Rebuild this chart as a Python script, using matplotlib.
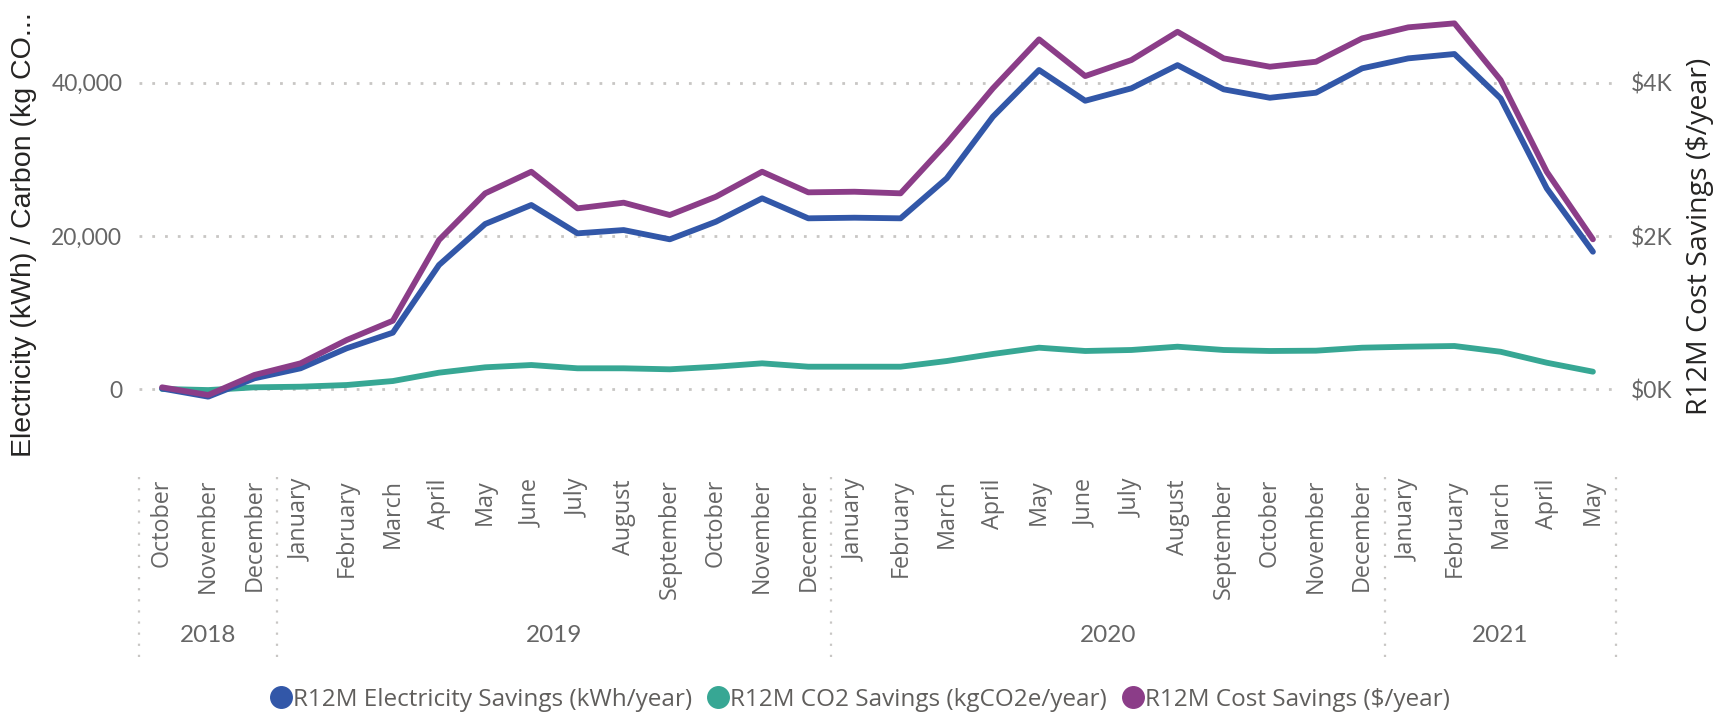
import matplotlib
matplotlib.use("Agg")
import matplotlib.pyplot as plt
from matplotlib.lines import Line2D
from matplotlib.ticker import FuncFormatter
import matplotlib.transforms as mtransforms

# ---------------- data ----------------
months = ["October", "November", "December",
          "January", "February", "March", "April", "May", "June", "July",
          "August", "September", "October", "November", "December",
          "January", "February", "March", "April", "May", "June", "July",
          "August", "September", "October", "November", "December",
          "January", "February", "March", "April", "May"]
years = ["2018", "2019", "2020", "2021"]
months_per_year = [3, 12, 12, 5]

electricity_kwh = [100, -960, 1430, 2740, 5350, 7390, 16220, 21570, 24050, 20350,
                   20780, 19570, 21870, 24920, 22310, 22390, 22310, 27530, 35570, 41660,
                   37650, 39270, 42300, 39140, 38040, 38700, 41880, 43180, 43750, 37960,
                   26220, 17950]
co2_kg = [50, -100, 260, 340, 560, 1080, 2170, 2870, 3170, 2740,
          2740, 2610, 2950, 3390, 2950, 2950, 2950, 3690, 4610, 5430,
          5000, 5130, 5560, 5130, 5000, 5040, 5430, 5560, 5650, 4900,
          3470, 2300]
cost_usd = [26, -74, 187, 339, 643, 895, 1948, 2557, 2839, 2361,
            2435, 2274, 2513, 2839, 2570, 2578, 2557, 3210, 3927, 4566,
            4087, 4296, 4665, 4318, 4209, 4274, 4579, 4723, 4775, 4035,
            2838, 1957]

series_labels = ["R12M Electricity Savings (kWh/year)",
                 "R12M CO2 Savings (kgCO2e/year)",
                 "R12M Cost Savings ($/year)"]
left_ticks = [0, 20000, 40000]
right_ticks = [0, 2000, 4000]

# ---------------- style ----------------
C_BLUE = "#3257A8"
C_TEAL = "#37A794"
C_PURPLE = "#8B3D88"
C_TICK = "#666666"
C_LEG = "#605E5C"
C_TITLE = "#252423"
C_GRID = "#c8c6c4"

W, H = 1731, 718
fig = plt.figure(figsize=(W / 100, H / 100), dpi=100)

ax_left_px, ax_right_px = 139, 1616
ax_top_px, ax_bot_px = 6.1, 412.3
ax = fig.add_axes([ax_left_px / W, 1 - ax_bot_px / H,
                   (ax_right_px - ax_left_px) / W, (ax_bot_px - ax_top_px) / H])
ax2 = ax.twinx()

x = list(range(len(months)))
lw = 4.2
ax.plot(x, electricity_kwh, color=C_BLUE, lw=lw, solid_joinstyle="round",
        solid_capstyle="round", zorder=3)
ax.plot(x, co2_kg, color=C_TEAL, lw=lw, solid_joinstyle="round",
        solid_capstyle="round", zorder=2)
ax2.plot(x, cost_usd, color=C_PURPLE, lw=lw, solid_joinstyle="round",
         solid_capstyle="round", zorder=3)

ax.set_xlim(-0.5, len(months) - 0.5)
ax.set_ylim(-3000, 50000)
ax2.set_ylim(-300, 5000)

ax.set_yticks(left_ticks)
ax.yaxis.set_major_formatter(FuncFormatter(lambda v, p: f"{v:,.0f}"))
ax2.set_yticks(right_ticks)
ax2.yaxis.set_major_formatter(FuncFormatter(lambda v, p: f"${v/1000:.0f}K"))

for a in (ax, ax2):
    for s in a.spines.values():
        s.set_visible(False)
    a.patch.set_visible(False)

ax.tick_params(axis="y", length=0, pad=12, labelsize=16.5, labelcolor=C_TICK)
ax2.tick_params(axis="y", length=0, pad=11, labelsize=16.5, labelcolor=C_TICK)
for lab in ax.get_yticklabels() + ax2.get_yticklabels():
    lab.set_fontfamily("Lato")

ax.grid(axis="y", color=C_GRID, linestyle=(0, (1, 3.6)), linewidth=2)
ax.grid(axis="x", visible=False)

ax.set_xticks(x)
ax.set_xticklabels(months, rotation=90, va="top", ha="center",
                   fontfamily="Open Sans", fontsize=16.8, color=C_TICK)
ax.tick_params(axis="x", length=0, pad=48)

# year labels and separators
trans = mtransforms.blended_transform_factory(ax.transData, fig.transFigure)
start = 0
bounds = [-0.5]
for yr, n in zip(years, months_per_year):
    center = start + (n - 1) / 2
    ax.text(center, 1 - 635 / H, yr, transform=trans, ha="center", va="center",
            fontfamily="Lato", fontsize=17.5, color=C_TICK)
    start += n
    bounds.append(start - 0.5)
for b in bounds:
    ln = Line2D([b, b], [1 - 477 / H, 1 - 657 / H], transform=trans,
                color=C_GRID, lw=1.6, linestyle=(0, (1, 4)))
    ln.set_clip_on(False)
    ax.add_artist(ln)

# axis titles
fig.text(24 / W, 1 - 235 / H, "Electricity (kWh) / Carbon (kg CO...",
         rotation=90, ha="center", va="center", fontfamily="Liberation Sans",
         fontsize=20.5, color=C_TITLE)
fig.text(1700 / W, 1 - 236 / H, "R12M Cost Savings ($/year)",
         rotation=90, ha="center", va="center", fontfamily="Open Sans",
         fontsize=20.5, color=C_TITLE)

# legend
handles = [Line2D([], [], marker="o", linestyle="none", markersize=15.5,
                  markerfacecolor=c, markeredgecolor=c)
           for c in (C_BLUE, C_TEAL, C_PURPLE)]
leg = fig.legend(handles, series_labels, loc="center", ncol=3,
                 bbox_to_anchor=(860 / W, 1 - 700 / H), frameon=False,
                 handlelength=0.9, handletextpad=0.05, columnspacing=0.6,
                 borderpad=0, prop={"family": "Open Sans", "size": 17.5})
for t in leg.get_texts():
    t.set_color(C_LEG)

fig.savefig("out.png", dpi=100)
